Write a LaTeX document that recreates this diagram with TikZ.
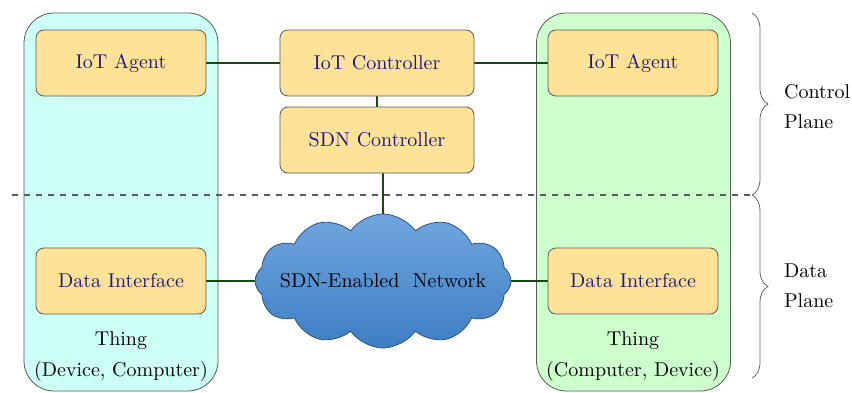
\documentclass[tikz,border=0pt]{standalone}
\usetikzlibrary{shapes.symbols}
\usetikzlibrary{decorations.pathreplacing}
\usetikzlibrary{backgrounds}

\definecolor{boxfill}{RGB}{254,226,152}
\definecolor{boxtext}{RGB}{28,22,125}
\definecolor{cyanbg}{RGB}{204,255,246}
\definecolor{greenbg}{RGB}{204,255,204}
\definecolor{linkgreen}{RGB}{22,72,22}
\definecolor{cloudtop}{RGB}{112,166,222}
\definecolor{cloudbot}{RGB}{62,126,196}
\definecolor{cloudedge}{RGB}{42,82,132}

\begin{document}
\begin{tikzpicture}[x=0.5pt, y=-0.5pt,
	box/.style={draw=black!65, fill=boxfill, rounded corners=4pt, minimum width=85pt, minimum height=33pt, text=boxtext},
	thing/.style={draw=black!65, rounded corners=15pt, minimum width=97pt, minimum height=189pt},
	link/.style={draw=linkgreen, line width=0.8pt},
	plane/.style={draw=black!60, decorate, decoration={brace, amplitude=8pt}}]
		\useasboundingbox (0,0) rectangle (852,392);
		\node[box] (lag) at (121,63) {IoT Agent};
		\node[box] (rag) at (633,63) {IoT Agent};
		\node[box, minimum width=97pt] (ctl) at (377,63) {IoT Controller};
		\node[box, minimum width=97pt] (sdn) at (377,140) {SDN Controller};
		\node[box] (ldi) at (121,281) {Data Interface};
		\node[box] (rdi) at (633,281) {Data Interface};
		\node[cloud, cloud puffs=12, cloud puff arc=110, aspect=2.2, inner xsep=-14pt, inner ysep=-2pt,
			minimum width=128pt, minimum height=67pt, draw=cloudedge,
			top color=cloudtop, bottom color=cloudbot] (net) at (383,281) {SDN-Enabled\ \ Network};
		
		\node[align=center] (lthing) at (121,357) {Thing\\[3.5pt](Device, Computer)};
		\node[align=center] (rthing) at (633,357) {Thing\\[3.5pt](Computer, Device)};
		
		\begin{scope}[on background layer]
		% the two things
		\node[thing, fill=cyanbg]  (lt) at (121,202) {};
		\node[thing, fill=greenbg] (rt) at (633.5,202) {};
		\draw[link] (lag) -- (ctl);
		\draw[link] (ctl) -- (rag);
		\draw[link] (ctl) -- (sdn);
		\draw[link] (sdn.south -| net.center) -- (net.center);
		\draw[link] (ldi) -- (net);
		\draw[link] (net) -- (rdi);
		\end{scope}
		
		% planes
		\coordinate (p0) at (752,13);
		\coordinate (p1) at (752,195);
		\coordinate (p2) at (752,378);
		\draw[dashed, black!65, line width=0.7pt] (12,195) -- (p1);
		\draw[plane] (p0) -- (p1);
		\draw[plane] (p1) -- (p2);
		\node[anchor=west, align=left] (cp) at (777,107) {Control\\[3pt]Plane};
		\node[anchor=west, align=left] (dp) at (777,286) {Data\\[3pt]Plane};
\end{tikzpicture}
\end{document}
